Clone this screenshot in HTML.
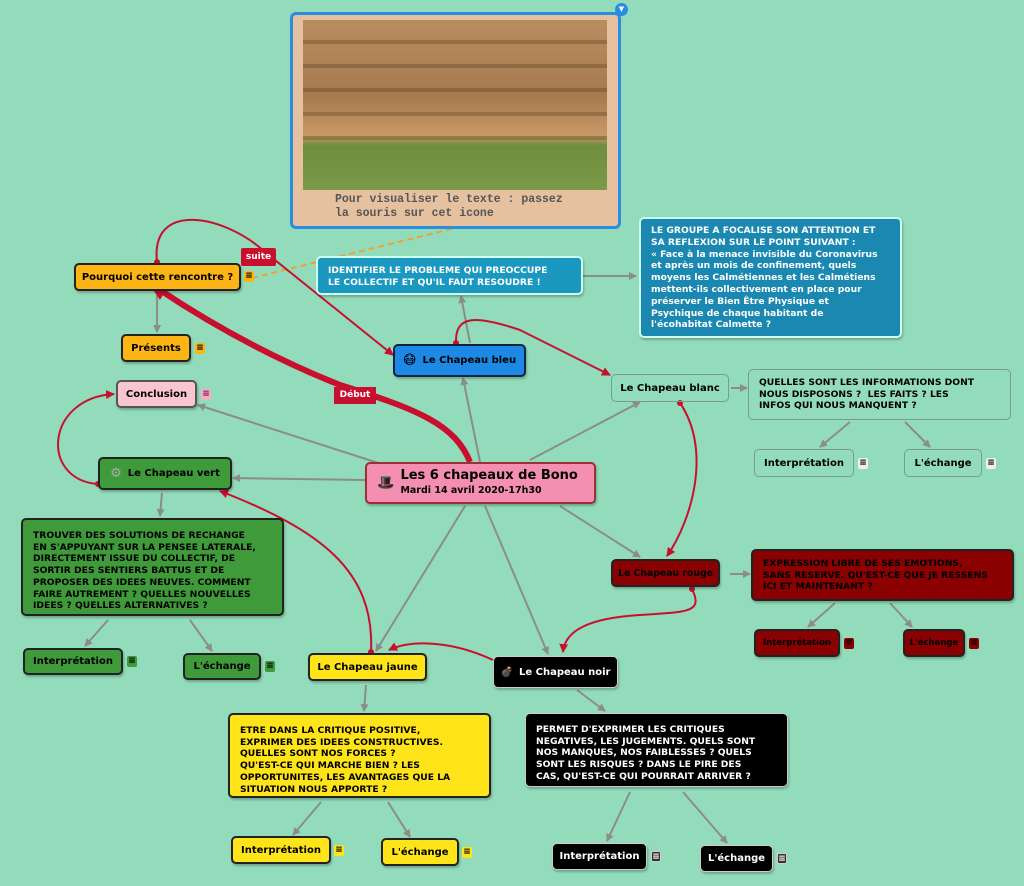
<!DOCTYPE html>
<html><head><meta charset="utf-8"><style>
*{margin:0;padding:0;box-sizing:border-box}
body{width:1024px;height:886px;background:#93dcbb;position:relative;overflow:hidden;font-family:"DejaVu Sans","Liberation Sans",sans-serif}
.n{position:absolute;border:2px solid #222;border-radius:5px;font-weight:bold;font-size:10px;display:flex;align-items:center;justify-content:center;white-space:nowrap;box-shadow:1px 2px 2px rgba(0,0,0,.25)}
.t{position:absolute;border:2px solid #222;border-radius:5px;font-weight:bold;font-size:9.2px;line-height:11.7px;white-space:nowrap;padding:10px 0 0 10px;box-shadow:1px 2px 2px rgba(0,0,0,.25)}
.ic{position:absolute;width:10px;height:11px;font-size:9px;line-height:11px;text-align:center;font-weight:bold;border-radius:2px}
svg{position:absolute;left:0;top:0}
</style></head><body>
<svg width="1024" height="886">
<defs>
<marker id="g" markerWidth="8" markerHeight="8" refX="7" refY="4" orient="auto" markerUnits="userSpaceOnUse"><path d="M0,0 L8,4 L0,8 z" fill="#8c8c8c"/></marker>
<marker id="r" markerWidth="9" markerHeight="9" refX="8" refY="4.5" orient="auto" markerUnits="userSpaceOnUse"><path d="M0,0 L9,4.5 L0,9 z" fill="#c8102e"/></marker>
</defs>
<g stroke="#8c8c8c" stroke-width="2" fill="none" marker-end="url(#g)">
<line x1="480" y1="462" x2="463" y2="378"/>
<line x1="530" y1="460" x2="640" y2="402"/>
<line x1="400" y1="470" x2="198" y2="405"/>
<line x1="365" y1="480" x2="233" y2="478"/>
<line x1="465" y1="506" x2="376" y2="651"/>
<line x1="485" y1="506" x2="548" y2="654"/>
<line x1="560" y1="506" x2="640" y2="557"/>
<line x1="470" y1="343" x2="461" y2="296"/>
<line x1="582" y1="276" x2="636" y2="276"/>
<line x1="157" y1="293" x2="157" y2="332"/>
<line x1="731" y1="388" x2="747" y2="388"/>
<line x1="850" y1="422" x2="820" y2="447"/>
<line x1="905" y1="422" x2="930" y2="447"/>
<line x1="730" y1="574" x2="750" y2="574"/>
<line x1="835" y1="603" x2="808" y2="627"/>
<line x1="890" y1="603" x2="912" y2="627"/>
<line x1="162" y1="493" x2="160" y2="516"/>
<line x1="108" y1="620" x2="85" y2="646"/>
<line x1="190" y1="620" x2="212" y2="651"/>
<line x1="366" y1="685" x2="364" y2="711"/>
<line x1="321" y1="802" x2="293" y2="835"/>
<line x1="388" y1="802" x2="410" y2="837"/>
<line x1="577" y1="690" x2="605" y2="711"/>
<line x1="630" y1="792" x2="607" y2="841"/>
<line x1="683" y1="792" x2="727" y2="843"/>
</g>
<path d="M252 278 L455 228" stroke="#f0a030" stroke-width="2" stroke-dasharray="6,4" fill="none"/>
<g stroke="#c8102e" stroke-width="2" fill="none">
<path d="M470 462 C455 425,420 410,340 385 C265 355,205 320,160 290" stroke-width="6"/>
<path d="M157 262 C150 200,225 215,265 252 L393 355" marker-end="url(#r)"/>
<path d="M456 343 C455 315,475 315,520 330 L610 375" marker-end="url(#r)"/>
<path d="M680 403 C712 450,692 520,667 556" marker-end="url(#r)"/>
<path d="M692 589 C703 612,690 612,640 615 C590 618,565 630,563 652" marker-end="url(#r)"/>
<path d="M493 660 C450 640,410 640,389 650" marker-end="url(#r)"/>
<path d="M371 652 C375 570,320 530,220 491" marker-end="url(#r)"/>
<path d="M98 484 C40 480,45 398,114 394" marker-end="url(#r)"/>
</g>
<polygon points="146,279 168,286 160,300" fill="#c8102e"/>
<g fill="#c8102e"><circle cx="157" cy="262" r="3"/><circle cx="456" cy="343" r="3"/><circle cx="680" cy="403" r="3"/><circle cx="692" cy="589" r="3"/><circle cx="371" cy="652" r="3"/><circle cx="98" cy="484" r="3"/></g>
</svg>
<div style="position:absolute;left:334px;top:387px;width:42px;height:17px;background:#c8102e;color:#fff;font-size:9px;font-weight:bold;text-align:center;line-height:17px">Début</div>
<div style="position:absolute;left:241px;top:248px;width:35px;height:18px;background:#c8102e;color:#fff;font-size:9px;font-weight:bold;text-align:center;line-height:18px;border-radius:2px">suite</div>

<div style="position:absolute;left:290px;top:12px;width:331px;height:217px;background:#e6c1a0;border:3px solid #2a8de0;border-radius:6px"></div>
<div style="position:absolute;left:303px;top:20px;width:304px;height:170px;background:linear-gradient(180deg,#b98d5f 0%,#a67a4e 45%,#c99a66 68%,#6f8d3e 74%,#7a9a48 100%)"></div>
<div style="position:absolute;left:303px;top:20px;width:304px;height:122px;background:repeating-linear-gradient(180deg,transparent 0 20px,rgba(90,60,30,.35) 20px 24px)"></div>
<div style="position:absolute;left:335px;top:193px;font:bold 11.5px/14px 'Liberation Mono',monospace;color:#555;white-space:nowrap">Pour visualiser le texte : passez<br>la souris sur cet icone</div>
<div style="position:absolute;left:615px;top:3px;width:13px;height:13px;border-radius:50%;background:#2a8de0;color:#fff;font-size:7px;text-align:center;line-height:13px">▼</div>

<div class="n" style="left:74px;top:263px;width:167px;height:28px;background:#fdb515">Pourquoi cette rencontre ?</div>
<div class="ic" style="left:244px;top:271px;background:#fdb515">≡</div>
<div class="n" style="left:121px;top:334px;width:70px;height:28px;background:#fdb515">Présents</div>
<div class="ic" style="left:195px;top:343px;background:#fdb515">≡</div>
<div class="n" style="left:116px;top:380px;width:81px;height:28px;background:#f9c6d0;border-color:#555">Conclusion</div>
<div class="ic" style="left:201px;top:389px;background:#f0b0c0;color:#906">≡</div>
<div class="n" style="left:98px;top:457px;width:134px;height:33px;background:#3f9a3a"><span style="color:#aaa;margin-right:6px;font-size:13px">⚙</span>Le Chapeau vert</div>
<div class="t" style="left:21px;top:518px;width:263px;height:98px;background:#3f9a3a">TROUVER DES SOLUTIONS DE RECHANGE<br>EN S'APPUYANT SUR LA PENSEE LATERALE,<br>DIRECTEMENT ISSUE DU COLLECTIF, DE<br>SORTIR DES SENTIERS BATTUS ET DE<br>PROPOSER DES IDEES NEUVES. COMMENT<br>FAIRE AUTREMENT ? QUELLES NOUVELLES<br>IDEES ? QUELLES ALTERNATIVES ?</div>
<div class="n" style="left:23px;top:648px;width:100px;height:27px;background:#3f9a3a">Interprétation</div>
<div class="ic" style="left:127px;top:656px;background:#3f9a3a">≡</div>
<div class="n" style="left:183px;top:653px;width:78px;height:27px;background:#3f9a3a">L'échange</div>
<div class="ic" style="left:265px;top:661px;background:#3f9a3a">≡</div>

<div class="n" style="left:365px;top:462px;width:231px;height:42px;background:#f48fb1;border-color:#933;justify-content:flex-start;padding-left:10px"><span style="font-size:14px;margin-right:6px">🎩</span><span style="line-height:14px"><span style="font-size:13px">Les 6 chapeaux de Bono</span><br><span style="font-size:9.5px">Mardi 14 avril 2020-17h30</span></span></div>

<div class="t" style="left:316px;top:256px;width:267px;height:39px;background:#1a98c0;color:#fff;border-color:#cfe;padding-top:7px">IDENTIFIER LE PROBLEME QUI PREOCCUPE<br>LE COLLECTIF ET QU'IL FAUT RESOUDRE !</div>
<div class="t" style="left:639px;top:217px;width:263px;height:121px;background:#1a88b0;color:#fff;border-color:#cfe;padding-top:6px;line-height:11.8px">LE GROUPE A FOCALISE SON ATTENTION ET<br>SA REFLEXION SUR LE POINT SUIVANT :<br>« Face à la menace invisible du Coronavirus<br>et après un mois de confinement, quels<br>moyens les Calmétiennes et les Calmétiens<br>mettent-ils collectivement en place pour<br>préserver le Bien Être Physique et<br>Psychique de chaque habitant de<br>l'écohabitat Calmette ?</div>
<div class="n" style="left:393px;top:344px;width:133px;height:33px;background:#1e88e5;border-color:#124"><span style="margin-right:6px;font-size:13px">😷</span>Le Chapeau bleu</div>

<div class="n" style="left:611px;top:374px;width:118px;height:28px;border-color:#7a9a8a;border-width:1.5px;box-shadow:none">Le Chapeau blanc</div>
<div class="t" style="left:748px;top:369px;width:263px;height:51px;border-color:#7a9a8a;border-width:1.5px;box-shadow:none;padding-top:7px">QUELLES SONT LES INFORMATIONS DONT<br>NOUS DISPOSONS ?&nbsp; LES FAITS ? LES<br>INFOS QUI NOUS MANQUENT ?</div>
<div class="n" style="left:754px;top:449px;width:100px;height:28px;border-color:#7a9a8a;border-width:1.5px;box-shadow:none">Interprétation</div>
<div class="ic" style="left:858px;top:458px;background:#eee">≡</div>
<div class="n" style="left:904px;top:449px;width:78px;height:28px;border-color:#7a9a8a;border-width:1.5px;box-shadow:none">L'échange</div>
<div class="ic" style="left:986px;top:458px;background:#eee">≡</div>

<div class="n" style="left:611px;top:559px;width:109px;height:28px;background:#8b0000;font-size:9.3px">Le Chapeau rouge</div>
<div class="t" style="left:751px;top:549px;width:263px;height:52px;background:#8b0000;padding-top:7px">EXPRESSION LIBRE DE SES EMOTIONS,<br>SANS RESERVE. QU'EST-CE QUE JE RESSENS<br>ICI ET MAINTENANT ?</div>
<div class="n" style="left:754px;top:629px;width:86px;height:28px;background:#8b0000;font-size:8.5px">Interprétation</div>
<div class="ic" style="left:844px;top:638px;background:#8b0000">≡</div>
<div class="n" style="left:903px;top:629px;width:62px;height:28px;background:#8b0000;font-size:8.5px">L'échange</div>
<div class="ic" style="left:969px;top:638px;background:#8b0000">≡</div>

<div class="n" style="left:308px;top:653px;width:119px;height:28px;background:#ffe41a">Le Chapeau jaune</div>
<div class="t" style="left:228px;top:713px;width:263px;height:85px;background:#ffe41a">ETRE DANS LA CRITIQUE POSITIVE,<br>EXPRIMER DES IDEES CONSTRUCTIVES.<br>QUELLES SONT NOS FORCES ?<br>QU'EST-CE QUI MARCHE BIEN ? LES<br>OPPORTUNITES, LES AVANTAGES QUE LA<br>SITUATION NOUS APPORTE ?</div>
<div class="n" style="left:231px;top:836px;width:100px;height:28px;background:#ffe41a">Interprétation</div>
<div class="ic" style="left:334px;top:845px;background:#ffe41a">≡</div>
<div class="n" style="left:381px;top:838px;width:78px;height:28px;background:#ffe41a">L'échange</div>
<div class="ic" style="left:462px;top:847px;background:#ffe41a">≡</div>

<div class="n" style="left:493px;top:656px;width:125px;height:32px;background:#000;color:#fff;border-color:#ccc;border-width:1px"><span style="margin-right:6px">💣</span>Le Chapeau noir</div>
<div class="t" style="left:525px;top:713px;width:263px;height:74px;background:#000;color:#fff;border-color:#ccc;border-width:1px">PERMET D'EXPRIMER LES CRITIQUES<br>NEGATIVES, LES JUGEMENTS. QUELS SONT<br>NOS MANQUES, NOS FAIBLESSES ? QUELS<br>SONT LES RISQUES ? DANS LE PIRE DES<br>CAS, QU'EST-CE QUI POURRAIT ARRIVER ?</div>
<div class="n" style="left:552px;top:843px;width:95px;height:27px;background:#000;color:#fff;border-color:#ccc;border-width:1px">Interprétation</div>
<div class="ic" style="left:651px;top:851px;background:#333;color:#fff;border:1px solid #ccc">≡</div>
<div class="n" style="left:700px;top:845px;width:73px;height:27px;background:#000;color:#fff;border-color:#ccc;border-width:1px">L'échange</div>
<div class="ic" style="left:777px;top:853px;background:#333;color:#fff;border:1px solid #ccc">≡</div>
</body></html>
